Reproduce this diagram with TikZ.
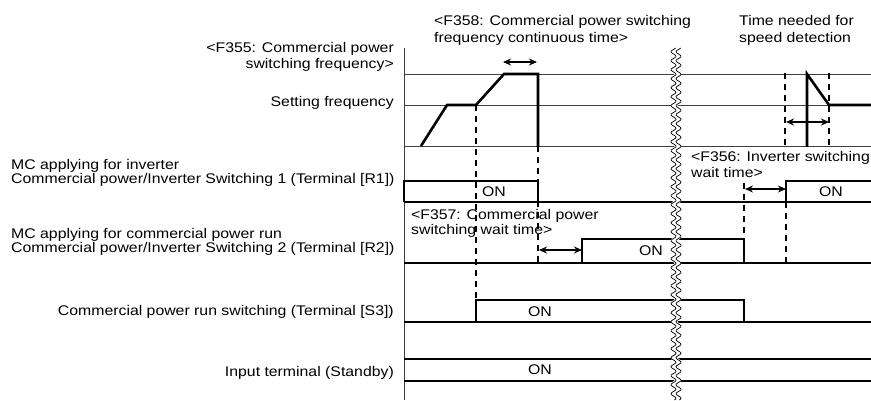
\documentclass[tikz,border=0pt]{standalone}
\usepackage{fontspec}
\setmainfont{Liberation Sans}[FakeStretch=1.13]
\usetikzlibrary{arrows.meta}
\begin{document}
\begin{tikzpicture}[x=1pt,y=-1pt,
  gridline/.style={line width=0.8pt, draw=black!75},
  sig/.style={line width=2.6pt, line join=miter, line cap=butt},
  dsh/.style={line width=1.3pt, dash pattern=on 6pt off 5pt},
  dim/.style={line width=1.4pt, {Stealth[length=8pt,width=7pt]}-{Stealth[length=8pt,width=7pt]}},
  lbl/.style={font=\fontsize{14}{12.8}\selectfont, inner sep=0pt},
  tlbl/.style={font=\fontsize{14}{17}\selectfont, inner sep=0pt},
  onlbl/.style={font=\fontsize{14}{14}\selectfont, inner sep=0pt},
]
\useasboundingbox (0,0) rectangle (871,401);

% axis and frequency grid lines
\draw[gridline] (404,48) -- (404,400);
\draw[gridline] (404,74) -- (871,74);
\draw[gridline] (404,105) -- (871,105);
\draw[gridline] (404,146) -- (871,146);

% dashed guide lines
\draw[dsh] (476,105) -- (476,300);
\draw[dsh] (538,146) -- (538,263);
\draw[dsh] (744,183) -- (744,263);
\draw[dsh] (786,202) -- (786,263);
\draw[dsh] (785,73) -- (785,146);
\draw[dsh] (829,73) -- (829,146);

% frequency trace
\draw[sig] (421,146) -- (447,105) -- (476,105) -- (504,74) -- (538,74) -- (538,147);
\draw[sig] (807,147) -- (807,74) -- (829,105) -- (871,105);

% R1
\draw[sig] (404,202) -- (404,181) -- (538,181) -- (538,202);
\draw[sig] (404,202) -- (871,202);
\draw[sig] (786,202) -- (786,181) -- (871,181);
% R2
\draw[sig] (404,263) -- (871,263);
\draw[sig] (582,263) -- (582,239) -- (744,239) -- (744,263);
% S3
\draw[sig] (404,322) -- (871,322);
\draw[sig] (476,322) -- (476,300) -- (744,300) -- (744,322);
% Standby
\draw[sig] (404,359) -- (871,359);
\draw[sig] (404,381) -- (871,381);

% dimension arrows
\coordinate (a1) at (503,62); \coordinate (b1) at (537,62);
\coordinate (a2) at (539,250); \coordinate (b2) at (582,250);
\coordinate (a3) at (745,189); \coordinate (b3) at (786,189);
\coordinate (a4) at (786,122); \coordinate (b4) at (829,122);
\draw[dim] (a1) -- (b1);
\draw[dim] (a2) -- (b2);
\draw[dim] (a3) -- (b3);
\draw[dim] (a4) -- (b4);

% break mark
\draw[white, line width=5pt] plot[domain=48:400, samples=400, smooth] ({676+2.5*sin(\x*40)}, \x);
\draw[line width=0.7pt] plot[domain=48:400, samples=400, smooth] ({673.5+2.5*sin(\x*40)}, \x);
\draw[line width=0.7pt] plot[domain=48:400, samples=400, smooth] ({678.5+2.5*sin(\x*40)}, \x);

% ON labels
\node[onlbl] (on1) at (494,192) {ON};
\node[onlbl] (on2) at (831,192) {ON};
\node[onlbl] (on3) at (651,251) {ON};
\node[onlbl] (on4) at (540,312) {ON};
\node[onlbl] (on5) at (540,370) {ON};

% left labels
\node[lbl, anchor=east, align=right, font=\fontsize{14}{16}\selectfont] (f355) at (394,57) {<F355: Commercial power\\switching frequency>};
\node[lbl, anchor=east] (setf) at (394,103) {Setting frequency};
\node[lbl, anchor=west, align=left] (r1lbl) at (11,173) {MC applying for inverter\\Commercial power/Inverter Switching 1 (Terminal [R1])};
\node[lbl, anchor=west, align=left] (r2lbl) at (11,242) {MC applying for commercial power run\\Commercial power/Inverter Switching 2 (Terminal [R2])};
\node[lbl, anchor=east] (s3lbl) at (394,312) {Commercial power run switching (Terminal [S3])};
\node[lbl, anchor=east] (stlbl) at (394,373) {Input terminal (Standby)};

% top and in-chart labels
\node[tlbl, anchor=west, align=left] (f358) at (434,30) {<F358: Commercial power switching\\frequency continuous time>};
\node[tlbl, anchor=west, align=left] (tspd) at (739,30) {Time needed for\\speed detection};
\node[lbl, anchor=west, align=left, font=\fontsize{14}{16}\selectfont] (f356) at (691,164) {<F356: Inverter switching\\wait time>};
\node[lbl, anchor=west, align=left, font=\fontsize{14}{15}\selectfont] (f357) at (411,223) {<F357: Commercial power\\switching wait time>};
\end{tikzpicture}
\end{document}
